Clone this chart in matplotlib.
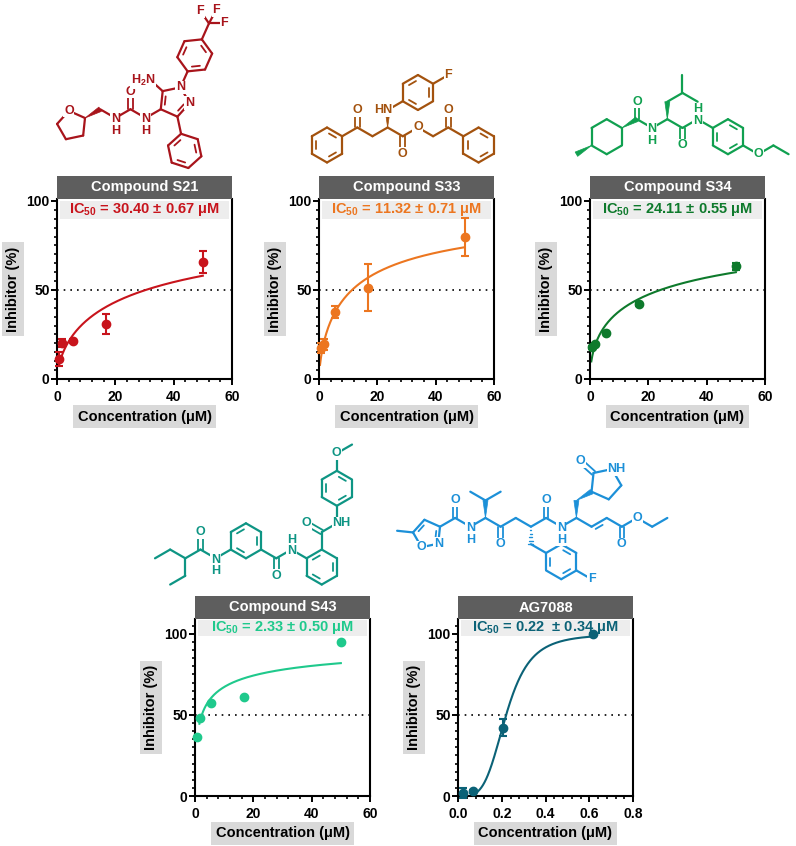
import math
import matplotlib
matplotlib.use("Agg")
import matplotlib.pyplot as plt
from matplotlib.patches import Rectangle, Polygon
from matplotlib.ticker import MultipleLocator
import numpy as np

plt.rcParams['font.family'] = ['Liberation Sans', 'DejaVu Sans']
plt.rcParams['font.weight'] = 'bold'
plt.rcParams['mathtext.fontset'] = 'custom'
plt.rcParams['mathtext.rm'] = 'Liberation Sans'
plt.rcParams['mathtext.bf'] = 'Liberation Sans:bold'

# ---------------- data ----------------
conc_uM = [0.62, 1.85, 5.56, 16.67, 50.0]
s21_inh = [11.2, 20.0, 21.3, 30.9, 65.5]
s21_err = [4.0, 2.2, 1.0, 5.8, 6.2]
s33_inh = [17.5, 19.5, 37.5, 51.2, 79.8]
s33_err = [3.0, 3.0, 3.5, 13.2, 10.5]
s34_inh = [17.8, 19.5, 26.0, 42.0, 63.4]
s34_err = [1.0, 1.0, 1.0, 1.0, 2.0]
s43_inh = [36.6, 48.3, 57.2, 61.1, 94.9]
s43_err = [0.0, 0.0, 0.0, 0.0, 0.0]
ag_conc_uM = [0.023, 0.069, 0.206, 0.617]
ag_inh = [2.0, 3.0, 42.2, 100.0]
ag_err = [3.0, 1.0, 5.0, 0.5]

titles = ['Compound S21', 'Compound S33', 'Compound S34', 'Compound S43', 'AG7088']
ic50_vals = [30.40, 11.32, 24.11, 2.33, 0.22]
ic50_texts = [r'IC$_{\mathbf{50}}$ = 30.40 ± 0.67 μM',
              r'IC$_{\mathbf{50}}$ = 11.32 ± 0.71 μM',
              r'IC$_{\mathbf{50}}$ = 24.11 ± 0.55 μM',
              r'IC$_{\mathbf{50}}$ = 2.33 ± 0.50 μM',
              r'IC$_{\mathbf{50}}$ = 0.22  ± 0.34 μM']
hill_slopes = [0.65, 0.705, 0.555, 0.494, 4.0]
fit_top = [100, 100, 100, 100, 100]
fit_start = [0.62, 0.35, 0.45, 1.5, 0.06]
data_colors = ['#C8141C', '#EC7620', '#0E7A2C', '#1FC98C', '#0B6277']
struct_colors = ['#A8141B', '#A3520E', '#10A050', '#0E9584', '#1C90D8']

W, H = 796, 846
fig = plt.figure(figsize=(W / 100, H / 100), dpi=100)
sax = fig.add_axes([0, 0, 1, 1])
sax.set_xlim(0, W)
sax.set_ylim(H, 0)
sax.axis('off')

# ---------------- chart panels ----------------
rects = [(57, 199, 232, 379), (319, 199, 494, 379), (590, 199, 765, 379),
         (195, 619, 370, 796), (458, 619, 633, 796)]
ytops = [101.1, 101.1, 101.1, 109.2, 109.2]
xmaxs = [60, 60, 60, 60, 0.8]
xmajors = [20, 20, 20, 20, 0.2]
xminors = [4, 4, 4, 4, 0.04]
xs = [conc_uM, conc_uM, conc_uM, conc_uM, ag_conc_uM]
ys = [s21_inh, s33_inh, s34_inh, s43_inh, ag_inh]
es = [s21_err, s33_err, s34_err, s43_err, ag_err]

TITLE_BG = '#5E5E5E'
IC_BG = '#EDEDED'
LAB_BG = '#D9D9D9'

for i in range(5):
    x0, y0, x1, y1 = rects[i]
    ax = fig.add_axes([x0 / W, 1 - y1 / H, (x1 - x0) / W, (y1 - y0) / H])
    ax.set_facecolor('none')
    ax.set_xlim(0, xmaxs[i])
    ax.set_ylim(0, ytops[i])
    c = data_colors[i]
    hpx = y1 - y0
    # IC50 box
    top_off = 2 if i < 3 else 1
    box_h = 18 if i < 3 else 16
    ax.add_patch(Rectangle((3 / 175, 1 - (top_off + box_h) / hpx), 1 - 6 / 175, box_h / hpx,
                           transform=ax.transAxes, fc=IC_BG, ec='none', zorder=0))
    ax.text(0.5, 1 - (top_off + box_h / 2) / hpx, ic50_texts[i], transform=ax.transAxes,
            ha='center', va='center', color=c, fontsize=10.5, fontweight='bold', zorder=1)
    # title bar
    tb = 23 / hpx
    ax.add_patch(Rectangle((0, 1), 1, tb, transform=ax.transAxes, fc=TITLE_BG, ec='none',
                           clip_on=False, zorder=3))
    ax.text(0.5, 1 + tb / 2, titles[i], transform=ax.transAxes, ha='center', va='center',
            color='white', fontsize=10.5, fontweight='bold', zorder=4)
    # 50% line
    ax.axhline(50, color='black', lw=1.2, ls=(0, (1, 3)), zorder=1)
    # fit curve
    xf = np.linspace(fit_start[i], xs[i][-1], 300)
    yf = fit_top[i] / (1 + (ic50_vals[i] / xf) ** hill_slopes[i])
    ax.plot(xf, yf, color=c, lw=1.5, zorder=2)
    # data
    ax.errorbar(xs[i], ys[i], yerr=es[i], fmt='o', color=c, ms=6, elinewidth=1.5,
                capsize=3, capthick=1.5, zorder=3, clip_on=False)
    # axes styling
    for s in ['left', 'bottom', 'right']:
        ax.spines[s].set_linewidth(1.5)
    ax.spines['top'].set_visible(False)
    ax.set_xticks(np.arange(0, xmaxs[i] + 1e-9, xmajors[i]))
    ax.set_yticks([0, 50, 100])
    ax.xaxis.set_minor_locator(MultipleLocator(xminors[i]))
    ax.yaxis.set_minor_locator(MultipleLocator(5))
    ax.tick_params(which='major', length=4.3, width=1.4, labelsize=10, pad=1)
    ax.tick_params(axis='x', which='major', pad=3.5)
    ax.tick_params(which='minor', length=2.5, width=1.2)
    for lab in ax.get_xticklabels() + ax.get_yticklabels():
        lab.set_fontweight('bold')
    # axis labels with gray boxes
    sax.text(x0 - 44, (y0 + y1) / 2, 'Inhibitor (%)', rotation=90, ha='center', va='center',
             fontsize=10.5, fontweight='bold', color='black',
             bbox=dict(boxstyle='square,pad=0.28', fc=LAB_BG, ec='none'))
    sax.text((x0 + x1) / 2, y1 + 37.5, 'Concentration (μM)', ha='center', va='center',
             fontsize=10.5, fontweight='bold', color='black',
             bbox=dict(boxstyle='square,pad=0.28', fc=LAB_BG, ec='none'))

# ---------------- chemical structures ----------------
L = 17.5
LW = 1.6
FS = 9


def pt(p, ang, d=L):
    a = math.radians(ang)
    return (p[0] + d * math.cos(a), p[1] - d * math.sin(a))


def bond(p, q, c, lw=LW):
    sax.plot([p[0], q[0]], [p[1], q[1]], color=c, lw=lw, solid_capstyle='round', zorder=2)


def dbl(p, q, c, off=2.3):
    dx, dy = q[0] - p[0], q[1] - p[1]
    n = math.hypot(dx, dy)
    nx, ny = -dy / n * off, dx / n * off
    bond((p[0] + nx, p[1] + ny), (q[0] + nx, q[1] + ny), c, lw=1.3)
    bond((p[0] - nx, p[1] - ny), (q[0] - nx, q[1] - ny), c, lw=1.3)


def inner(p, q, cen, c, f=0.28, s=0.18):
    a = (p[0] + (cen[0] - p[0]) * f, p[1] + (cen[1] - p[1]) * f)
    b = (q[0] + (cen[0] - q[0]) * f, q[1] + (cen[1] - q[1]) * f)
    a2 = (a[0] + (b[0] - a[0]) * s, a[1] + (b[1] - a[1]) * s)
    b2 = (b[0] + (a[0] - b[0]) * s, b[1] + (a[1] - b[1]) * s)
    bond(a2, b2, c, lw=1.3)


def ring(cen, start, c, n=6, R=L, doubles=(0, 2, 4)):
    v = [pt(cen, start + k * 360.0 / n, R) for k in range(n)]
    for k in range(n):
        bond(v[k], v[(k + 1) % n], c)
    for k in doubles:
        inner(v[k], v[(k + 1) % n], cen, c)
    return v


def wedge(p, q, c, w=5.0):
    dx, dy = q[0] - p[0], q[1] - p[1]
    n = math.hypot(dx, dy)
    nx, ny = -dy / n * w / 2, dx / n * w / 2
    sax.add_patch(Polygon([p, (q[0] + nx, q[1] + ny), (q[0] - nx, q[1] - ny)],
                          closed=True, fc=c, ec=c, lw=0.5, zorder=2))


def hashed(p, q, c, w=5.0, k=5):
    dx, dy = q[0] - p[0], q[1] - p[1]
    n = math.hypot(dx, dy)
    ux, uy = -dy / n, dx / n
    for j in range(1, k + 1):
        t = j / k
        cx, cy = p[0] + dx * t, p[1] + dy * t
        h = w / 2 * t
        bond((cx - ux * h, cy - uy * h), (cx + ux * h, cy + uy * h), c, lw=1.0)


BB = dict(boxstyle='square,pad=0.05', fc='white', ec='none')


def label(p, txt, c, ha='center', dx=0.0, dy=0.0):
    sax.text(p[0] + dx, p[1] + dy, txt, ha=ha, va='center', color=c, fontsize=FS,
             fontweight='bold', zorder=3, bbox=BB)


def nh(p, c, where):
    # N atom label with its H below, above, left or right (one text object)
    if where == 'below':
        sax.text(p[0], p[1] - 4.6, 'N\nH', ha='center', va='top', linespacing=0.95,
                 color=c, fontsize=FS, fontweight='bold', zorder=3, bbox=BB)
    elif where == 'above':
        sax.text(p[0], p[1] + 4.6, 'H\nN', ha='center', va='baseline', linespacing=0.95,
                 color=c, fontsize=FS, fontweight='bold', zorder=3, bbox=BB)
    elif where == 'left':
        sax.text(p[0] + 4.6, p[1], 'HN', ha='right', va='center', color=c, fontsize=FS,
                 fontweight='bold', zorder=3, bbox=BB)
    else:
        sax.text(p[0] - 4.6, p[1], 'NH', ha='left', va='center', color=c, fontsize=FS,
                 fontweight='bold', zorder=3, bbox=BB)


# --- S21 ---
c = struct_colors[0]
C2 = (85, 118)
thf_c = pt(C2, 210, 15)
thf = [pt(thf_c, 30 + 72 * k, 15) for k in range(5)]
for k in range(5):
    bond(thf[k], thf[(k + 1) % 5], c)
label(thf[1], 'O', c)
CH2 = pt(C2, 30)
wedge(C2, CH2, c)
Na = pt(CH2, -30)
bond(CH2, Na, c)
Cu = pt(Na, 30)
bond(Na, Cu, c)
Ou = pt(Cu, 90)
dbl(Cu, Ou, c)
Nb = pt(Cu, -30)
bond(Cu, Nb, c)
C4 = pt(Nb, 30)
bond(Nb, C4, c)
pzc = pt(C4, 30, 15.5)
pz = [pt(pzc, 210 - 72 * k, 15.5) for k in range(5)]
for k in range(5):
    bond(pz[k], pz[(k + 1) % 5], c)
inner(pz[0], pz[1], pzc, c)
inner(pz[3], pz[4], pzc, c)
NH2 = pt(pz[1], 138, 16)
bond(pz[1], NH2, c)
Va = pt(pz[2], 66)
bond(pz[2], Va, c)
rca = pt(Va, 66)
ring(rca, 246, c)
topv = pt(rca, 66)
CF = pt(topv, 66)
bond(topv, CF, c)
for ang in (125, 62, 0):
    Fp = pt(CF, ang, 15)
    bond(CF, Fp, c)
    label(Fp, 'F', c)
Vb = pt(pz[4], -78)
bond(pz[4], Vb, c)
rcb = pt(Vb, -78)
ring(rcb, 102, c)
nh(Na, c, 'below')
nh(Nb, c, 'below')
label(Ou, 'O', c)
label(pz[2], 'N', c)
label(pz[3], 'N', c)
label(NH2, r'H$_\mathbf{2}$N', c, ha='right', dx=4.6)

# --- S33 ---
c = struct_colors[1]
c1 = (327, 145)
r1 = ring(c1, 90, c, doubles=(1, 3, 5))
V1 = r1[5]
Ca = pt(V1, 30)
bond(V1, Ca, c)
Oa = pt(Ca, 90)
dbl(Ca, Oa, c)
Cb = pt(Ca, -30)
bond(Ca, Cb, c)
Cc = pt(Cb, 30)
bond(Cb, Cc, c)
Nn = pt(Cc, 90)
wedge(Cc, Nn, c)
V2 = pt(Nn, 30)
bond(Nn, V2, c)
rc2 = pt(V2, 30)
r2 = ring(rc2, 210, c)
Fv = pt(rc2, 30)
Fl = pt(Fv, 30)
bond(Fv, Fl, c)
label(Fl, 'F', c)
Cd = pt(Cc, -30)
bond(Cc, Cd, c)
Od = pt(Cd, -90)
dbl(Cd, Od, c)
Oe = pt(Cd, 30)
bond(Cd, Oe, c)
Cf = pt(Oe, -30)
bond(Oe, Cf, c)
Cg = pt(Cf, 30)
bond(Cf, Cg, c)
Og = pt(Cg, 90)
dbl(Cg, Og, c)
V3 = pt(Cg, -30)
bond(Cg, V3, c)
rc3 = pt(V3, -30)
ring(rc3, 150, c)
label(Oa, 'O', c)
nh(Nn, c, 'left')
label(Od, 'O', c)
label(Oe, 'O', c)
label(Og, 'O', c)

# --- S34 ---
c = struct_colors[2]
cy = (606.7, 136.7)
rcy = ring(cy, 90, c, doubles=())
Vl = rcy[2]
Me = pt(Vl, 210)
wedge(Vl, Me, c)
Vr = rcy[5]
Ck = pt(Vr, 30)
wedge(Vr, Ck, c)
Ok = pt(Ck, 90)
dbl(Ck, Ok, c)
N1 = pt(Ck, -30)
bond(Ck, N1, c)
Cal = pt(N1, 30)
bond(N1, Cal, c)
Cbl = pt(Cal, 90)
wedge(Cal, Cbl, c)
Ccl = pt(Cbl, 30)
bond(Cbl, Ccl, c)
bond(Ccl, pt(Ccl, 90), c)
bond(Ccl, pt(Ccl, -30), c)
C2l = pt(Cal, -30)
bond(Cal, C2l, c)
O2l = pt(C2l, -90)
dbl(C2l, O2l, c)
N2 = pt(C2l, 30)
bond(C2l, N2, c)
Vp = pt(N2, -30)
bond(N2, Vp, c)
rcp = pt(Vp, -30)
ring(rcp, 150, c)
Vo = pt(rcp, -30)
Oet = pt(Vo, -30)
bond(Vo, Oet, c)
Ce1 = pt(Oet, 30)
bond(Oet, Ce1, c)
bond(Ce1, pt(Ce1, -30), c)
label(Ok, 'O', c)
nh(N1, c, 'below')
label(O2l, 'O', c)
nh(N2, c, 'above')
label(Oet, 'O', c)

# --- S43 ---
c = struct_colors[3]
m1 = (155, 558.3)
m2 = pt(m1, 30)
bond(m1, m2, c)
ch = pt(m2, -30)
bond(m2, ch, c)
e1 = pt(ch, -90)
bond(ch, e1, c)
bond(e1, pt(e1, 210), c)
ck = pt(ch, 30)
bond(ch, ck, c)
ok1 = pt(ck, 90)
dbl(ck, ok1, c)
n1 = pt(ck, -30)
bond(ck, n1, c)
v1 = pt(n1, 30)
bond(n1, v1, c)
rc1 = pt(v1, 30)
rr1 = ring(rc1, 210, c)
vm = rr1[2]
ck2 = pt(vm, -30)
bond(vm, ck2, c)
ok2 = pt(ck2, -90)
dbl(ck2, ok2, c)
n2 = pt(ck2, 30)
bond(ck2, n2, c)
v2 = pt(n2, -30)
bond(n2, v2, c)
rc2b = pt(v2, -30)
rr2 = ring(rc2b, 150, c, doubles=(1, 3, 5))
vt = pt(rc2b, 90)
ck3 = pt(vt, 90)
bond(vt, ck3, c)
ok3 = pt(ck3, 150)
dbl(ck3, ok3, c)
n3 = pt(ck3, 30)
bond(ck3, n3, c)
vb3 = pt(n3, 90)
bond(n3, vb3, c)
rc3b = pt(vb3, 90)
ring(rc3b, 270, c)
vt3 = pt(rc3b, 90)
om = pt(vt3, 90)
bond(vt3, om, c)
bond(om, pt(om, 30), c)
label(ok1, 'O', c)
nh(n1, c, 'below')
label(ok2, 'O', c)
nh(n2, c, 'above')
label(ok3, 'O', c)
nh(n3, c, 'right')
label(om, 'O', c)

# --- AG7088 ---
c = struct_colors[4]
C3i = (440, 526.7)
isc = pt(C3i, 210, 14.5)
iso = [pt(isc, 30 + 72 * k, 14.5) for k in range(5)]  # C3, C4, C5, O, N
for k in range(5):
    bond(iso[k], iso[(k + 1) % 5], c)
inner(iso[1], iso[2], isc, c)
inner(iso[4], iso[0], isc, c)
bond(iso[2], pt(iso[2], 174, 16), c)
ca1 = pt(C3i, 30)
bond(C3i, ca1, c)
oa1 = pt(ca1, 90)
dbl(ca1, oa1, c)
na1 = pt(ca1, -30)
bond(ca1, na1, c)
cb1 = pt(na1, 30)
bond(na1, cb1, c)
ip = pt(cb1, 90)
wedge(cb1, ip, c)
bond(ip, pt(ip, 150), c)
bond(ip, pt(ip, 30), c)
ck1 = pt(cb1, -30)
bond(cb1, ck1, c)
ok1b = pt(ck1, -90)
dbl(ck1, ok1b, c)
cm1 = pt(ck1, 30)
bond(ck1, cm1, c)
cc1 = pt(cm1, -30)
bond(cm1, cc1, c)
bz = pt(cc1, -90)
hashed(cc1, bz, c)
vbz = pt(bz, -30)
bond(bz, vbz, c)
rcbz = pt(vbz, -30)
ring(rcbz, 150, c)
vf = pt(rcbz, -30)
fl = pt(vf, -30)
bond(vf, fl, c)
cd1 = pt(cc1, 30)
bond(cc1, cd1, c)
od1 = pt(cd1, 90)
dbl(cd1, od1, c)
nd1 = pt(cd1, -30)
bond(cd1, nd1, c)
ce1 = pt(nd1, 30)
bond(nd1, ce1, c)
cf1 = pt(ce1, 90)
wedge(ce1, cf1, c)
cg1 = pt(cf1, 30)
wedge(cf1, cg1, c)
pyc = pt(cg1, 30, 16)
py = [pt(pyc, 210 - 72 * k, 16) for k in range(5)]  # C3, C2, N, C5, C4
for k in range(5):
    bond(py[k], py[(k + 1) % 5], c)
opy = pt(py[1], 138)
dbl(py[1], opy, c)
cv1 = pt(ce1, -30)
bond(ce1, cv1, c)
cv2 = pt(cv1, 30)
bond(cv1, cv2, c)
inner(cv1, cv2, (cv1[0] + 7.6, cv1[1] + 12), c)
cs = pt(cv2, -30)
bond(cv2, cs, c)
os1 = pt(cs, -90)
dbl(cs, os1, c)
os2 = pt(cs, 30)
bond(cs, os2, c)
ce2 = pt(os2, -30)
bond(os2, ce2, c)
bond(ce2, pt(ce2, 30), c)
label(iso[3], 'O', c)
label(iso[4], 'N', c)
label(oa1, 'O', c)
nh(na1, c, 'below')
label(ok1b, 'O', c)
label(od1, 'O', c)
nh(nd1, c, 'below')
label(fl, 'F', c)
label(opy, 'O', c)
nh(py[2], c, 'right')
label(os1, 'O', c)
label(os2, 'O', c)

fig.savefig('out.png', dpi=100)
